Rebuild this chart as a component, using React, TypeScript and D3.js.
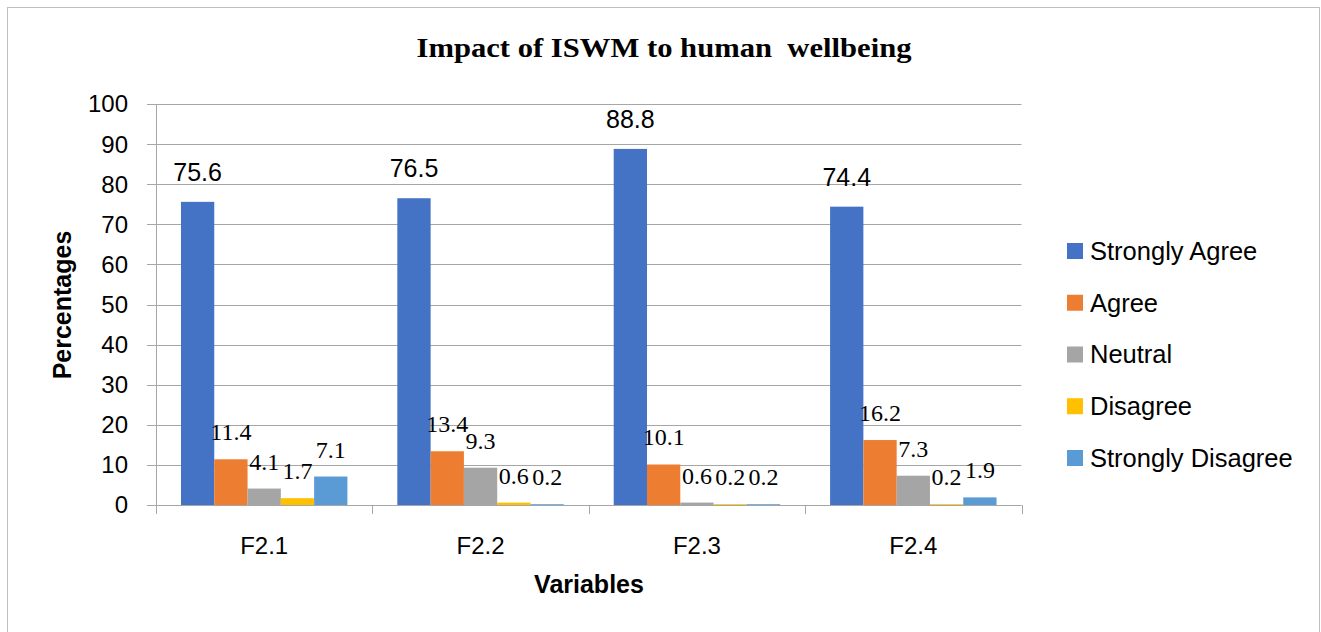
import React from 'react';
import * as d3 from 'd3';

const categories = ['F2.1', 'F2.2', 'F2.3', 'F2.4'];
const seriesNames = ['Strongly Agree', 'Agree', 'Neutral', 'Disagree', 'Strongly Disagree'];
const stronglyAgree = [75.6, 76.5, 88.8, 74.4];
const agree = [11.4, 13.4, 10.1, 16.2];
const neutral = [4.1, 9.3, 0.6, 7.3];
const disagree = [1.7, 0.6, 0.2, 0.2];
const stronglyDisagree = [7.1, 0.2, 0.2, 1.9];
const yTicks = [0, 10, 20, 30, 40, 50, 60, 70, 80, 90, 100];

const seriesValues = [stronglyAgree, agree, neutral, disagree, stronglyDisagree];
const colors = ['#4472C4', '#ED7D31', '#A5A5A5', '#FFC000', '#5B9BD5'];

const W = 1321;
const H = 632;
const plot = { left: 156, right: 1021.5, top: 104, bottom: 505 };
const sans = '"Liberation Sans", Arial, sans-serif';
const serif = '"Liberation Serif", "Times New Roman", serif';
const grid = '#A6A6A6';

const App = () => {
  const x = d3.scaleBand()
    .domain(categories)
    .range([plot.left, plot.right])
    .paddingInner(0)
    .paddingOuter(0);

  // gap width 150%: 5 bars + 1.5 bar widths of gap in each category
  const barW = x.bandwidth() / 6.5;
  const offset = (x.bandwidth() - barW * 5) / 2;

  const y = d3.scaleLinear().domain([0, 100]).range([plot.bottom, plot.top]);

  const bars = [];
  seriesValues.forEach((vals, si) => {
    vals.forEach((v, ci) => {
      bars.push({ series: si, cat: categories[ci], value: v });
    });
  });

  const barX = (d) => x(d.cat) + offset + d.series * barW;

  const legendY = d3.scalePoint()
    .domain(seriesNames)
    .range([251, 458]);

  return (
    <svg width={W} height={H} style={{ position: 'absolute', left: 0, top: 0, display: 'block', background: '#fff' }}>
      <rect x={7.5} y={7.5} width={1312} height={660} fill="#fff" stroke="#BFBFBF" strokeWidth={1} />

      <text x={664} y={57} textAnchor="middle" fontFamily={serif} fontWeight="bold" fontSize={27}
        textLength={495} lengthAdjust="spacingAndGlyphs" style={{ whiteSpace: 'pre' }}>
        {'Impact of ISWM to human  wellbeing'}
      </text>

      {/* gridlines and y ticks */}
      {yTicks.map(t => (
        <g key={t}>
          <line x1={plot.left - 9} x2={plot.right} y1={Math.round(y(t)) + 0.5} y2={Math.round(y(t)) + 0.5} stroke={grid} strokeWidth={1} />
          <text x={128} y={y(t)} dy="0.35em" textAnchor="end" fontFamily={sans} fontSize={24} fill="#000">{t}</text>
        </g>
      ))}
      <line x1={plot.left + 0.5} x2={plot.left + 0.5} y1={plot.top} y2={plot.bottom} stroke={grid} strokeWidth={1} />

      {/* category ticks */}
      {[...categories.map(c => x(c)), plot.right].map((px, i) => (
        <line key={i} x1={Math.round(px) + 0.5} x2={Math.round(px) + 0.5} y1={plot.bottom} y2={plot.bottom + 9} stroke={grid} strokeWidth={1} />
      ))}

      {bars.map((d, i) => (
        <rect key={i} x={barX(d)} y={y(d.value)} width={barW} height={plot.bottom - y(d.value)} fill={colors[d.series]} />
      ))}

      {bars.map((d, i) => (
        <text
          key={'l' + i}
          x={barX(d) + barW / 2}
          y={y(d.value) - (d.series === 0 ? 21 : 19)}
          textAnchor="middle"
          fontFamily={d.series === 0 ? sans : serif}
          fontSize={d.series === 0 ? 25 : 24}
          fill="#000"
        >
          {d.value.toFixed(1)}
        </text>
      ))}

      {categories.map(c => (
        <text key={c} x={x(c) + x.bandwidth() / 2} y={554} textAnchor="middle" fontFamily={sans} fontSize={24} fill="#000">{c}</text>
      ))}

      <text x={589} y={593} textAnchor="middle" fontFamily={sans} fontWeight="bold" fontSize={25} fill="#000">Variables</text>
      <text transform="translate(71,305) rotate(-90)" textAnchor="middle" fontFamily={sans} fontWeight="bold" fontSize={25} fill="#000">Percentages</text>

      {seriesNames.map((s, i) => (
        <g key={s}>
          <rect x={1067} y={legendY(s) - 8} width={16} height={16} fill={colors[i]} />
          <text x={1090} y={legendY(s)} dy="0.35em" fontFamily={sans} fontSize={25.5} fill="#000">{s}</text>
        </g>
      ))}
    </svg>
  );
};

export default App;
